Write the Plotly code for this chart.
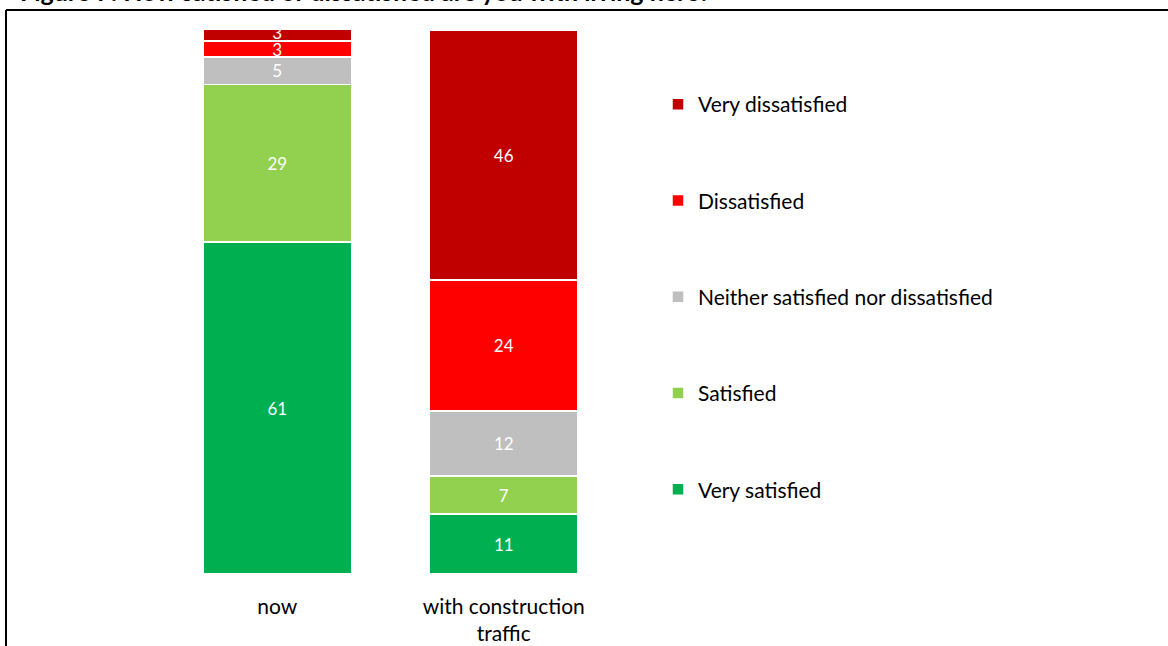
import plotly.graph_objects as go

# Survey responses (%) for each situation
situations = ["now", "with construction<br>traffic"]
levels = ["Very satisfied", "Satisfied", "Neither satisfied nor dissatisfied",
          "Dissatisfied", "Very dissatisfied"]
very_satisfied = [61, 11]
satisfied = [29, 7]
neither = [5, 12]
dissatisfied = [3, 24]
very_dissatisfied = [3, 46]
colors = ["#00B050", "#92D050", "#BFBFBF", "#FF0000", "#C00000"]

series = [very_satisfied, satisfied, neither, dissatisfied, very_dissatisfied]

W, H = 1168, 646
L, R, T, B = 164, 551, 30, 72
PW, PH = W - L - R, H - T - B
FONT = "Lato"


def px_x(p):
    return (p - L) / PW


def px_y(p):
    return (H - B - p) / PH


fig = go.Figure()
for i, (name, vals, col) in enumerate(zip(levels, series, colors)):
    fig.add_trace(go.Bar(
        x=situations, y=vals, name=name, legendgroup=name,
        legendrank=len(levels) - i,
        marker=dict(color=col, line=dict(color="white", width=1.5)),
        text=[str(v) for v in vals], textposition="inside",
        insidetextanchor="middle", constraintext="none", textangle=0,
        textfont=dict(color="white", size=17, family=FONT),
        cliponaxis=True, hoverinfo="skip",
    ))

# chart frame
fig.add_shape(type="line", xref="paper", yref="paper",
              x0=px_x(6), x1=px_x(W + 5), y0=px_y(10), y1=px_y(10),
              line=dict(color="black", width=2))
fig.add_shape(type="line", xref="paper", yref="paper",
              x0=px_x(6), x1=px_x(6), y0=px_y(10), y1=px_y(H + 5),
              line=dict(color="black", width=2))

fig.add_annotation(
    text="<b>Figure 7: How satisfied or dissatisfied are you with living here?</b>",
    xref="paper", yref="paper", x=px_x(18), y=px_y(8),
    xanchor="left", yanchor="bottom", showarrow=False,
    font=dict(size=25, family=FONT, color="black"),
)

fig.update_layout(
    width=W, height=H,
    margin=dict(l=L, r=R, t=T, b=B, pad=0, autoexpand=False),
    barmode="stack", bargap=0.345,
    plot_bgcolor="white", paper_bgcolor="white",
    font=dict(family=FONT, size=18, color="#000000"),
    showlegend=True,
    legend=dict(
        x=px_x(658), y=px_y(84), xanchor="left", yanchor="top",
        traceorder="grouped", tracegroupgap=66,
        font=dict(size=21, family=FONT, color="black"),
        itemwidth=30,
    ),
    xaxis=dict(showline=False, showgrid=False, ticks="", ticklabelstandoff=18,
               automargin=False,
               tickfont=dict(size=21, family=FONT, color="#000000")),
    yaxis=dict(range=[0, 100], visible=False, showgrid=False, automargin=False),
)

fig.write_html("out.html")
